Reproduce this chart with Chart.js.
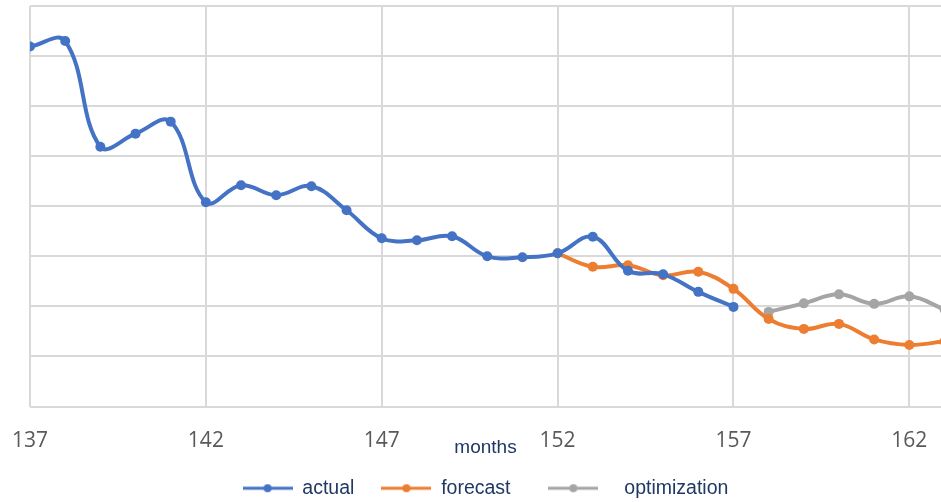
<!DOCTYPE html>
<html>
<head>
<meta charset="utf-8">
<script src="https://cdn.jsdelivr.net/npm/chart.js@4/dist/chart.umd.min.js"></script>
<style>
  html, body { margin: 0; padding: 0; background: #fff; }
  #wrap { width: 941px; height: 502px; }
</style>
</head>
<body>
<div id="wrap"><canvas id="monthsChart" width="941" height="502"></canvas></div>
<script>
// Chart values
const months = [137, 138, 139, 140, 141, 142, 143, 144, 145, 146, 147, 148, 149, 150,
                151, 152, 153, 154, 155, 156, 157, 158, 159, 160, 161, 162, 163];
const actualValues = [7.19, 7.30, 5.19, 5.45, 5.69, 4.08, 4.42, 4.22, 4.40, 3.92, 3.36, 3.32, 3.40, 3.00,
                      2.98, 3.06, 3.39, 2.71, 2.64, 2.29, 1.99, null, null, null, null, null, null];
const forecastValues = [null, null, null, null, null, null, null, null, null, null, null, null, null, null,
                        null, 3.06, 2.79, 2.82, 2.62, 2.69, 2.35, 1.75, 1.55, 1.65, 1.34, 1.23, 1.30];
const optimizationValues = [null, null, null, null, null, null, null, null, null, null, null, null, null, null,
                            null, null, null, null, null, null, null, 1.89, 2.06, 2.24, 2.05, 2.20, 1.94];
const xTickValues = [137, 142, 147, 152, 157, 162];
const seriesNames = ['actual', 'forecast', 'optimization'];
// legend texts keep the spacing seen in the original legend
const legendTexts = ['actual', 'forecast  ', '   optimization'];
const seriesColors = ['#4472C4', '#ED7D31', '#A5A5A5'];

const labelFont = "'Liberation Sans', Arial, sans-serif";

// Helper: builds {x, y} points for a series
function toPoints(values) {
    return months.map((m, i) => ({ x: m, y: values[i] }));
}

// Helper: small line-with-dot marker used in the legend
function legendMarker(color) {
    const c = document.createElement('canvas');
    c.width = 50;
    c.height = 12;
    const g = c.getContext('2d');
    g.strokeStyle = color;
    g.lineWidth = 3;
    g.beginPath();
    g.moveTo(0, 6);
    g.lineTo(50, 6);
    g.stroke();
    g.fillStyle = color;
    g.beginPath();
    g.arc(25, 6, 4, 0, Math.PI * 2);
    g.fill();
    return c;
}

const seriesValues = [actualValues, forecastValues, optimizationValues];

const datasets = seriesNames.map((name, i) => ({
    label: name,
    data: toPoints(seriesValues[i]),
    borderColor: seriesColors[i],
    backgroundColor: seriesColors[i],
    borderWidth: 4,
    pointRadius: 5,
    pointBorderWidth: 0,
    pointBackgroundColor: seriesColors[i],
    tension: 0.4,
    spanGaps: false,
    fill: false
}));

const markers = seriesColors.map(legendMarker);

new Chart(document.getElementById('monthsChart'), {
    type: 'line',
    data: { datasets: datasets },
    options: {
        responsive: false,
        animation: false,
        layout: { autoPadding: false, padding: { left: 30, right: 0, top: 6, bottom: -6 } },
        scales: {
            x: {
                type: 'linear',
                min: 137,
                max: 162.9,
                afterBuildTicks: scale => {
                    scale.ticks = xTickValues.map(v => ({ value: v }));
                },
                grid: {
                    color: '#D9D9D9',
                    lineWidth: 2,
                    drawTicks: true,
                    tickLength: 10,
                    tickColor: 'rgba(0,0,0,0)'
                },
                border: { display: false },
                ticks: {
                    color: '#595959',
                    font: { family: "'Open Sans', 'Liberation Sans', sans-serif", size: 21 },
                    padding: 12,
                    maxRotation: 0,
                    autoSkip: false
                },
                title: {
                    display: true,
                    text: 'months',
                    color: '#1F3864',
                    font: { family: labelFont, size: 19 },
                    padding: { top: -29, bottom: -8 }
                }
            },
            y: {
                min: 0,
                max: 8,
                grid: { color: '#D9D9D9', lineWidth: 2, drawTicks: false },
                border: { display: false },
                ticks: { display: false, stepSize: 1 }
            }
        },
        plugins: {
            legend: {
                position: 'bottom',
                labels: {
                    usePointStyle: true,
                    pointStyleWidth: 50,
                    padding: 27,
                    color: '#1F3864',
                    font: { family: labelFont, size: 19.5 },
                    generateLabels: chart => chart.data.datasets.map((ds, i) => ({
                        text: legendTexts[i],
                        fontColor: '#1F3864',
                        pointStyle: markers[i],
                        strokeStyle: seriesColors[i],
                        fillStyle: seriesColors[i],
                        lineWidth: 0,
                        hidden: false,
                        datasetIndex: i
                    }))
                }
            },
            tooltip: { enabled: false }
        }
    }
});
</script>
</body>
</html>
